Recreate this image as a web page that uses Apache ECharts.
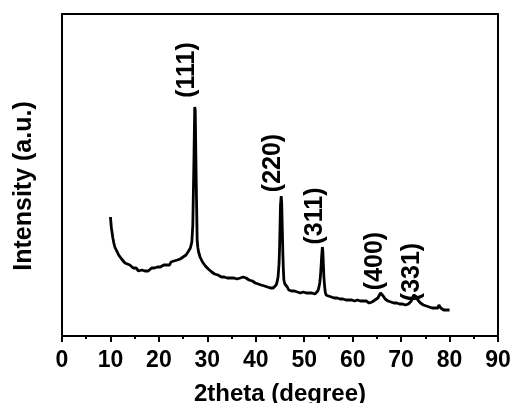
<!DOCTYPE html>
<html>
<head>
<meta charset="utf-8">
<script src="https://cdn.jsdelivr.net/npm/echarts@6/dist/echarts.min.js"></script>
<style>
  html, body { margin: 0; padding: 0; background: #fff; }
  #chart { width: 511px; height: 403px; }
</style>
</head>
<body>
<div id="chart"></div>
<script>
// XRD pattern (intensity in arbitrary units)
var twoTheta = [
  10.0, 10.1, 10.2, 10.35, 10.5, 10.7, 10.9, 11.1, 11.4, 11.7,
  12.0, 12.3, 12.7, 13.0, 13.3, 13.5, 13.8, 14.0, 14.3, 14.7,
  15.0, 15.3, 15.5, 15.8, 16.1, 16.5, 16.8, 17.1, 17.5, 17.8,
  18.2, 18.5, 18.8, 19.1, 19.4, 19.7, 20.0, 20.3, 20.6, 21.0,
  21.3, 21.6, 21.9, 22.2, 22.5, 22.8, 23.1, 23.5, 23.8, 24.1,
  24.4, 24.7, 25.0, 25.3, 25.6, 25.8, 26.0, 26.3, 26.5, 26.7,
  26.8, 27.0, 27.2, 27.4, 27.5, 27.7, 27.9, 28.05, 28.2, 28.35,
  28.5, 28.75, 29.0, 29.3, 29.6, 29.9, 30.2, 30.6, 30.9, 31.2,
  31.5, 31.9, 32.2, 32.6, 32.9, 33.2, 33.5, 33.8, 34.1, 34.5,
  34.8, 35.1, 35.5, 35.8, 36.1, 36.5, 36.8, 37.1, 37.4, 37.7,
  38.0, 38.3, 38.6, 39.0, 39.3, 39.6, 39.9, 40.2, 40.5, 40.8,
  41.1, 41.5, 41.8, 42.1, 42.4, 42.7, 43.0, 43.3, 43.6, 43.9,
  44.2, 44.4, 44.6, 44.8, 44.9, 45.0, 45.1, 45.25, 45.35, 45.45,
  45.6, 45.7, 45.8, 46.0, 46.2, 46.5, 46.8, 47.1, 47.4, 47.7,
  48.0, 48.3, 48.6, 48.9, 49.2, 49.5, 49.8, 50.1, 50.4, 50.7,
  51.0, 51.3, 51.6, 51.9, 52.2, 52.5, 52.8, 53.0, 53.2, 53.35,
  53.5, 53.6, 53.75, 53.85, 53.95, 54.05, 54.2, 54.35, 54.5, 54.7,
  55.0, 55.3, 55.6, 55.9, 56.2, 56.5, 56.8, 57.1, 57.4, 57.7,
  58.0, 58.3, 58.6, 58.9, 59.2, 59.5, 59.8, 60.1, 60.4, 60.7,
  61.0, 61.3, 61.6, 61.9, 62.2, 62.5, 62.8, 63.1, 63.4, 63.7,
  64.0, 64.3, 64.6, 64.9, 65.2, 65.5, 65.75, 65.9, 66.1, 66.3,
  66.5, 66.7, 67.0, 67.3, 67.6, 67.9, 68.2, 68.5, 68.8, 69.1,
  69.4, 69.7, 70.0, 70.3, 70.6, 70.9, 71.2, 71.5, 71.8, 72.1,
  72.35, 72.6, 72.85, 73.0, 73.2, 73.45, 73.7, 74.0, 74.3, 74.6,
  74.9, 75.2, 75.5, 75.8, 76.1, 76.4, 76.7, 77.0, 77.3, 77.6,
  77.8, 78.0, 78.2, 78.5, 78.8, 79.1, 79.4, 79.7, 80.0
];
var intensity = [
  119, 113, 108, 103, 98, 93, 89, 87, 84, 81,
  80, 77, 76, 73, 74, 72, 70, 71, 69, 68,
  66, 68, 67, 65, 67, 66, 68, 65, 67, 65,
  66, 68, 66, 68, 66, 69, 67, 69, 68, 71,
  69, 71, 73, 71, 74, 72, 75, 73, 76, 75,
  77, 76, 79, 77, 81, 80, 84, 84, 88, 90,
  94, 111, 166, 229, 226, 156, 96, 88, 84, 82,
  79, 77, 74, 73, 70, 70, 67, 67, 64, 65,
  62, 64, 61, 61, 59, 61, 59, 61, 58, 60,
  58, 59, 58, 60, 57, 59, 58, 60, 59, 60,
  58, 57, 56, 55, 55, 53, 53, 51, 52, 50,
  51, 49, 50, 48, 49, 47, 48, 46, 48, 49,
  51, 54, 59, 72, 86, 108, 131, 140, 133, 112,
  81, 66, 56, 52, 50, 49, 46, 47, 45, 47,
  45, 46, 44, 46, 43, 45, 44, 46, 43, 45,
  43, 45, 43, 44, 42, 44, 45, 48, 53, 60,
  71, 80, 89, 84, 72, 60, 50, 44, 41, 39,
  40, 38, 39, 37, 38, 36, 38, 36, 37, 35,
  37, 35, 36, 35, 36, 34, 36, 34, 35, 34,
  36, 34, 35, 33, 35, 33, 35, 34, 33, 35,
  34, 35, 36, 36, 38, 40, 43, 43, 42, 40,
  38, 37, 36, 35, 36, 34, 35, 33, 35, 33,
  34, 32, 34, 32, 33, 31, 33, 32, 34, 35,
  38, 41, 42, 41, 39, 36, 34, 33, 32, 31,
  32, 30, 31, 29, 30, 28, 29, 28, 29, 28,
  31, 29, 28, 28, 26, 27, 26, 27, 26
];

// peak labels (hkl) and where they sit
var peakNames = ['(111)', '(220)', '(311)', '(400)', '(331)'];
var peakX = [25.8, 43.6, 52.2, 64.6, 72.2];
var peakY = [266, 173, 120, 75, 64];

var xTicks = [0, 10, 20, 30, 40, 50, 60, 70, 80, 90];

var font = '"Liberation Sans", Arial, sans-serif';

var lineData = twoTheta.map(function (t, i) { return [t, intensity[i]]; });
var labelData = peakNames.map(function (n, i) { return [peakX[i], peakY[i], n]; });

var chart = echarts.init(document.getElementById('chart'));
chart.setOption({
  animation: false,
  backgroundColor: '#fff',
  grid: {
    left: 62,
    right: 13,
    top: 14,
    bottom: 67,
    outerBoundsMode: 'none',
    containLabel: false,
    show: true,
    borderColor: '#000',
    borderWidth: 2
  },
  xAxis: {
    type: 'value',
    min: xTicks[0],
    max: xTicks[xTicks.length - 1],
    interval: 10,
    name: '2theta (degree)',
    nameLocation: 'middle',
    nameGap: 46,
    nameTextStyle: { fontFamily: font, fontWeight: 'bold', fontSize: 24, color: '#000' },
    axisLine: { lineStyle: { color: '#000', width: 2 } },
    axisTick: { length: 6, lineStyle: { color: '#000', width: 2 } },
    minorTick: { show: true, splitNumber: 2, length: 3, lineStyle: { color: '#000', width: 2 } },
    axisLabel: { fontFamily: font, fontWeight: 'bold', fontSize: 23, color: '#000', margin: 13 },
    splitLine: { show: false }
  },
  yAxis: {
    type: 'value',
    min: 0,
    max: 322,
    name: 'Intensity (a.u.)',
    nameLocation: 'middle',
    nameGap: 25,
    nameTextStyle: {
      fontFamily: font, fontWeight: 'bold', fontSize: 25, color: '#000',
      padding: [0, 22, 0, 0]
    },
    axisLine: { show: true, lineStyle: { color: '#000', width: 2 } },
    axisTick: { show: false },
    axisLabel: { show: false },
    splitLine: { show: false }
  },
  series: [
    {
      type: 'line',
      data: lineData,
      showSymbol: false,
      smooth: false,
      lineStyle: { color: '#000', width: 2.8 }
    },
    {
      type: 'scatter',
      data: labelData,
      symbolSize: 0,
      itemStyle: { color: '#000', opacity: 1 },
      label: {
        show: true,
        position: 'inside',
        rotate: 90,
        formatter: function (p) { return p.value[2]; },
        fontFamily: font,
        fontWeight: 'bold',
        fontSize: 25,
        color: '#000'
      }
    }
  ]
});
</script>
</body>
</html>
